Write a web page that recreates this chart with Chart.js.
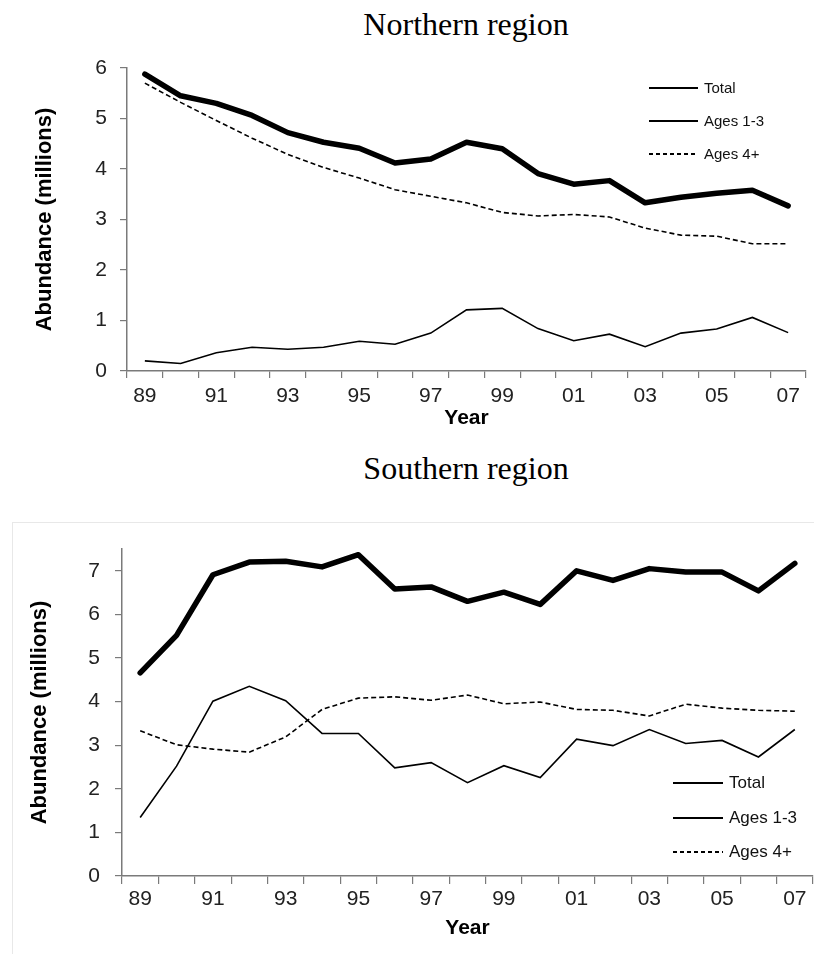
<!DOCTYPE html>
<html>
<head>
<meta charset="utf-8">
<title>Abundance by region</title>
<script src="https://cdn.jsdelivr.net/npm/chart.js@4.4.1/dist/chart.umd.min.js"></script>
<style>
  body { margin: 0; background: #fff; width: 814px; height: 954px; position: relative; overflow: hidden; }
  .title { position: absolute; left: 266px; width: 400px; text-align: center; font-family: "Liberation Serif", "Times New Roman", serif; font-size: 32px; line-height: 32px; color: #000; }
  .frame { position: absolute; left: 12px; top: 522px; width: 900px; height: 500px; border: 1px solid #e8e8e8; }
  canvas { position: absolute; left: 0; }
  .legend { position: absolute; font-family: "Liberation Sans", Arial, sans-serif; color: #111; }
  .legend .row { position: absolute; left: 0; height: 20px; line-height: 20px; white-space: nowrap; }
  .legend .swatch { position: absolute; left: 0; top: 9px; height: 2px; background: #000; }
  .legend .label { position: absolute; top: 0; }
</style>
</head>
<body>
<div class="title" style="top:8px">Northern region</div>
<div class="title" style="top:452px">Southern region</div>
<div class="frame"></div>
<canvas id="northChart" width="814" height="400" style="top:40px"></canvas>
<canvas id="southChart" width="814" height="424" style="top:530px"></canvas>
<div class="legend" id="northLegend" style="left:649px; top:78px; font-size:15px"></div>
<div class="legend" id="southLegend" style="left:673px; top:773px; font-size:17px"></div>
<script>
const years = ["89", "90", "91", "92", "93", "94", "95", "96", "97", "98",
  "99", "00", "01", "02", "03", "04", "05", "06", "07"];
const seriesNames = ["Total", "Ages 1-3", "Ages 4+"];

// NORTHERN REGION (millions)
const northTotal = [5.88, 5.45, 5.30, 5.06, 4.72, 4.53, 4.41, 4.12, 4.20, 4.53,
  4.40, 3.91, 3.70, 3.77, 3.33, 3.44, 3.52, 3.58, 3.27];
const northAges13 = [0.20, 0.15, 0.36, 0.47, 0.43, 0.47, 0.59, 0.53, 0.75, 1.21,
  1.24, 0.84, 0.60, 0.73, 0.48, 0.75, 0.83, 1.06, 0.76];
const northAges4 = [5.70, 5.32, 4.96, 4.61, 4.29, 4.03, 3.82, 3.59, 3.46, 3.33,
  3.14, 3.07, 3.10, 3.05, 2.83, 2.69, 2.67, 2.52, 2.52];
const northTicks = [0, 1, 2, 3, 4, 5, 6];

// SOUTHERN REGION (millions)
const southTotal = [4.66, 5.52, 6.91, 7.20, 7.22, 7.09, 7.37, 6.58, 6.63, 6.30,
  6.51, 6.23, 7.00, 6.78, 7.05, 6.97, 6.97, 6.54, 7.17];
const southAges13 = [1.34, 2.52, 4.01, 4.35, 4.02, 3.27, 3.27, 2.48, 2.60, 2.14,
  2.53, 2.26, 3.14, 2.99, 3.36, 3.04, 3.11, 2.73, 3.36];
const southAges4 = [3.33, 3.01, 2.91, 2.84, 3.19, 3.82, 4.08, 4.11, 4.03, 4.15,
  3.95, 3.99, 3.82, 3.80, 3.67, 3.94, 3.85, 3.80, 3.78];
const southTicks = [0, 1, 2, 3, 4, 5, 6, 7];

const SANS = "'Liberation Sans', Arial, sans-serif";
const AXIS = "#7a7a7a";
const TICK = "#222";

function makeChart(id, total, young, old, yTicks, yMax, g) {
  return new Chart(document.getElementById(id), {
    type: "line",
    data: {
      labels: years,
      datasets: [
        { label: seriesNames[0], data: total, borderColor: "#000", borderWidth: 5.5,
          borderJoinStyle: "round", borderCapStyle: "round", borderDash: [] },
        { label: seriesNames[1], data: young, borderColor: "#000", borderWidth: 1.6, borderDash: [] },
        { label: seriesNames[2], data: old, borderColor: "#000", borderWidth: 1.6, borderDash: [5, 3] }
      ]
    },
    options: {
      responsive: false,
      animation: false,
      devicePixelRatio: 1,
      layout: { padding: { top: g.padTop, right: g.padRight, left: 0, bottom: 0 } },
      elements: { point: { radius: 0 }, line: { tension: 0 } },
      plugins: { legend: { display: false }, tooltip: { enabled: false } },
      scales: {
        x: {
          offset: true,
          grid: { offset: true, drawOnChartArea: false, tickLength: g.xTickLen, color: AXIS, lineWidth: 1.2 },
          border: { color: AXIS, width: 1.5 },
          ticks: {
            autoSkip: false, maxRotation: 0, minRotation: 0, padding: g.xTickPad,
            color: TICK, font: { size: 21, family: SANS },
            callback: (v, i) => (i % 2 === 0 ? years[i] : "")
          },
          title: { display: true, text: "Year", color: "#000",
            font: { size: 21, weight: "bold", family: SANS }, padding: { top: 0, bottom: g.yearPad } },
          afterFit: (s) => { s.height = g.xHeight; s.paddingLeft = 0; s.paddingRight = 0; }
        },
        y: {
          min: 0,
          max: yMax,
          afterBuildTicks: (s) => { s.ticks = yTicks.map((v) => ({ value: v })); },
          grid: { drawOnChartArea: false, tickLength: 7, color: AXIS, lineWidth: 1.2 },
          border: { color: AXIS, width: 1.5 },
          ticks: { padding: g.yTickPad, color: TICK, font: { size: 21, family: SANS } },
          title: { display: true, text: "Abundance (millions)", color: "#000",
            font: { size: 22, weight: "bold", family: SANS }, padding: { top: g.yTitlePad, bottom: 0 } },
          afterFit: (s) => { s.width = g.yWidth; s.paddingTop = 0; s.paddingBottom = 0; }
        }
      }
    }
  });
}

// LEGEND (built from the chart datasets)
function buildLegend(chart, id, rowGap, lineLen) {
  const box = document.getElementById(id);
  chart.data.datasets.forEach((ds, i) => {
    const row = document.createElement("div");
    row.className = "row";
    row.style.top = (i * rowGap) + "px";
    const line = document.createElement("span");
    line.className = "swatch";
    line.style.width = lineLen + "px";
    if (ds.borderDash.length) {
      line.style.background = "repeating-linear-gradient(to right, #000 0 4px, transparent 4px 7px)";
    }
    const text = document.createElement("span");
    text.className = "label";
    text.style.left = (lineLen + 6) + "px";
    text.textContent = ds.label;
    row.appendChild(line);
    row.appendChild(text);
    box.appendChild(row);
  });
}

const northChart = makeChart("northChart", northTotal, northAges13, northAges4, northTicks, 6, {
  padTop: 28, padRight: 8, xHeight: 69, xTickLen: 7, xTickPad: 6, yearPad: 9,
  yWidth: 127, yTickPad: 13, yTitlePad: 32
});
const southChart = makeChart("southChart", southTotal, southAges13, southAges4, southTicks, 7.5, {
  padTop: 19, padRight: 1, xHeight: 78, xTickLen: 8, xTickPad: 3, yearPad: 13,
  yWidth: 122, yTickPad: 15, yTitlePad: 27
});

buildLegend(northChart, "northLegend", 33, 49);
buildLegend(southChart, "southLegend", 34.5, 50);
</script>
</body>
</html>
